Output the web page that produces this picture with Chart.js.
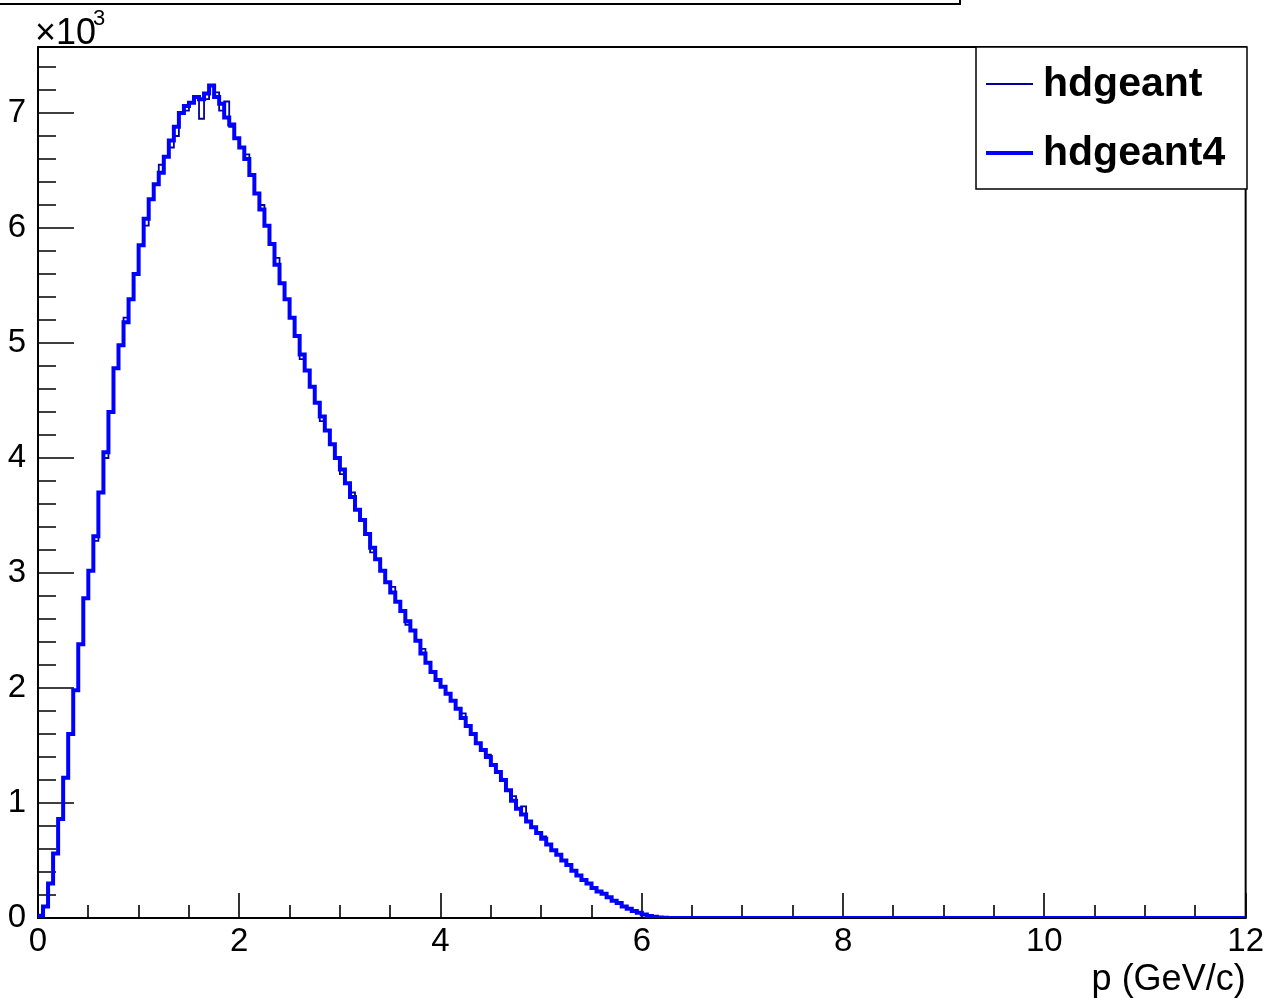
<!DOCTYPE html>
<html>
<head>
<meta charset="utf-8">
<title>p (GeV/c) - hdgeant vs hdgeant4</title>
<script src="https://cdn.jsdelivr.net/npm/chart.js@4.4.0/dist/chart.umd.min.js"></script>
<style>
  html, body { margin: 0; padding: 0; background: #ffffff; }
  #wrap { width: 1268px; height: 998px; }
</style>
</head>
<body>
<div id="wrap"><canvas id="chart" width="1268" height="998"></canvas></div>
<script>
// histogram binning (GeV/c), values in units of 10^3 entries
const binWidth = 0.05;
const xRange = [0, 12];
const yMax = 7.574;

const seriesNames = ['hdgeant', 'hdgeant4'];

const hdgeant4Values = [
  0.02, 0.10, 0.30, 0.56, 0.86, 1.22, 1.60, 1.98, 2.38, 2.78,
  3.02, 3.32, 3.70, 4.05, 4.40, 4.78, 4.98, 5.18, 5.38, 5.60,
  5.85, 6.08, 6.25, 6.38, 6.48, 6.62, 6.76, 6.88, 7.00, 7.06,
  7.09, 7.14, 7.12, 7.17, 7.24, 7.14, 7.08, 6.96, 6.90, 6.78,
  6.70, 6.60, 6.46, 6.30, 6.16, 6.02, 5.86, 5.68, 5.52, 5.38,
  5.22, 5.06, 4.90, 4.76, 4.62, 4.48, 4.36, 4.24, 4.12, 4.00,
  3.90, 3.78, 3.66, 3.55, 3.46, 3.34, 3.22, 3.12, 3.02, 2.92,
  2.83, 2.75, 2.67, 2.58, 2.50, 2.41, 2.30, 2.22, 2.14, 2.07,
  2.01, 1.95, 1.89, 1.82, 1.74, 1.67, 1.60, 1.52, 1.46, 1.40,
  1.33, 1.27, 1.20, 1.11, 1.02, 0.95, 0.90, 0.84, 0.79, 0.74,
  0.69, 0.64, 0.59, 0.55, 0.50, 0.46, 0.41, 0.37, 0.33, 0.30,
  0.26, 0.23, 0.21, 0.18, 0.15, 0.13, 0.10, 0.08, 0.06, 0.045,
  0.03, 0.018, 0.01, 0.005, 0.002, 0.001
];

const hdgeantValues = [
  0.02, 0.10, 0.30, 0.56, 0.86, 1.22, 1.60, 1.98, 2.38, 2.78,
  3.02, 3.28, 3.70, 4.00, 4.40, 4.78, 4.98, 5.22, 5.38, 5.60,
  5.85, 6.02, 6.25, 6.38, 6.55, 6.62, 6.70, 6.80, 7.00, 7.02,
  7.09, 7.14, 6.95, 7.12, 7.24, 7.18, 7.02, 7.10, 6.88, 6.78,
  6.70, 6.64, 6.46, 6.30, 6.20, 6.02, 5.86, 5.74, 5.52, 5.38,
  5.22, 5.06, 4.86, 4.76, 4.62, 4.48, 4.32, 4.24, 4.12, 4.00,
  3.86, 3.78, 3.70, 3.55, 3.46, 3.34, 3.18, 3.12, 3.02, 2.92,
  2.88, 2.75, 2.67, 2.55, 2.50, 2.41, 2.34, 2.22, 2.14, 2.07,
  2.01, 1.95, 1.89, 1.82, 1.78, 1.67, 1.60, 1.52, 1.46, 1.42,
  1.33, 1.27, 1.20, 1.11, 1.06, 0.95, 0.97, 0.84, 0.79, 0.74,
  0.71, 0.64, 0.59, 0.55, 0.50, 0.46, 0.41, 0.37, 0.33, 0.30,
  0.26, 0.23, 0.21, 0.18, 0.15, 0.13, 0.10, 0.08, 0.06, 0.045,
  0.03, 0.018, 0.01, 0.005, 0.002, 0.001
];

const xTickLabels = [0, 2, 4, 6, 8, 10, 12];
const yTickLabels = [0, 1, 2, 3, 4, 5, 6, 7];

const FONT = '"Liberation Sans", Arial, Helvetica, sans-serif';

// turn bin contents into a ROOT-like step outline
function toSteps(values) {
  const pts = [];
  values.forEach((v, i) => {
    pts.push({ x: i * binWidth, y: v });
    pts.push({ x: (i + 1) * binWidth, y: v });
  });
  pts.push({ x: values.length * binWidth, y: 0 });
  pts.push({ x: xRange[1], y: 0 });
  return pts;
}

// frame, inward ticks, legend and labels in ROOT style
const rootStyle = {
  id: 'rootStyle',
  beforeDatasetsDraw(chart) {
    const ctx = chart.ctx;
    const a = chart.chartArea;
    const xs = chart.scales.x;
    const ys = chart.scales.y;
    ctx.save();
    ctx.strokeStyle = '#000';
    ctx.lineWidth = 2;
    ctx.strokeRect(a.left, a.top, a.right - a.left, a.bottom - a.top);

    ctx.lineWidth = 1.6;
    ctx.beginPath();
    for (let v = xRange[0]; v <= xRange[1] + 1e-9; v += 0.5) {
      const px = Math.round(xs.getPixelForValue(v));
      const len = Math.abs(v % 2) < 1e-6 ? 25 : 13;
      ctx.moveTo(px, a.bottom);
      ctx.lineTo(px, a.bottom - len);
    }
    for (let v = 0; v <= yMax + 1e-9; v += 0.2) {
      const py = Math.round(ys.getPixelForValue(v));
      const len = Math.abs(v - Math.round(v)) < 1e-6 ? 36 : 18;
      ctx.moveTo(a.left, py);
      ctx.lineTo(a.left + len, py);
    }
    ctx.stroke();
    ctx.restore();
  },
  afterDraw(chart) {
    const ctx = chart.ctx;
    const a = chart.chartArea;
    ctx.save();

    // title box edge, cut off at the top of the canvas
    ctx.strokeStyle = '#000';
    ctx.lineWidth = 2;
    ctx.beginPath();
    ctx.moveTo(0, 4);
    ctx.lineTo(960, 4);
    ctx.lineTo(960, 0);
    ctx.stroke();

    // axis multiplier
    ctx.fillStyle = '#000';
    ctx.textAlign = 'left';
    ctx.textBaseline = 'alphabetic';
    ctx.font = '36px ' + FONT;
    ctx.fillText('\u00d710', 35, 44);
    ctx.font = '22px ' + FONT;
    ctx.fillText('3', 93, 25);

    // x axis title
    ctx.font = '36px ' + FONT;
    ctx.textAlign = 'right';
    ctx.fillText('p (GeV/c)', a.right, 990);

    // legend
    const lx = 976, ly = 47, lw = 271, lh = 142;
    ctx.fillStyle = '#fff';
    ctx.fillRect(lx, ly, lw, lh);
    ctx.lineWidth = 1.5;
    ctx.strokeStyle = '#000';
    ctx.strokeRect(lx, ly, lw, lh);

    chart.data.datasets.slice().sort((p, q) => p.legendRow - q.legendRow).forEach((ds, k) => {
      const y = ly + 37 + k * 69;
      ctx.strokeStyle = ds.borderColor;
      ctx.lineWidth = ds.borderWidth;
      ctx.beginPath();
      ctx.moveTo(986, y);
      ctx.lineTo(1033, y);
      ctx.stroke();
      ctx.fillStyle = '#000';
      ctx.font = 'bold 41px ' + FONT;
      ctx.textAlign = 'left';
      ctx.textBaseline = 'middle';
      ctx.fillText(ds.label, 1043, y + 1);
    });
    ctx.restore();
  }
};

const chart = new Chart(document.getElementById('chart'), {
  type: 'line',
  data: {
    datasets: [
      {
        label: seriesNames[1],
        data: toSteps(hdgeant4Values),
        borderColor: '#0000ff',
        borderWidth: 4,
        pointRadius: 0,
        tension: 0,
        fill: false,
        order: 0,
        legendRow: 1
      },
      {
        label: seriesNames[0],
        data: toSteps(hdgeantValues),
        borderColor: '#000099',
        borderWidth: 1.8,
        pointRadius: 0,
        tension: 0,
        fill: false,
        order: 1,
        legendRow: 0
      }
    ]
  },
  options: {
    responsive: false,
    animation: false,
    layout: { padding: { top: 47, right: 21, left: 0, bottom: 0 } },
    plugins: {
      legend: { display: false },
      tooltip: { enabled: false },
      title: { display: false }
    },
    scales: {
      x: {
        type: 'linear',
        position: 'bottom',
        min: xRange[0],
        max: xRange[1],
        grid: { display: false, drawTicks: false },
        border: { display: false },
        afterBuildTicks: (s) => { s.ticks = xTickLabels.map(v => ({ value: v })); },
        afterFit: (s) => { s.height = 80; },
        ticks: {
          autoSkip: false,
          maxRotation: 0,
          padding: 4,
          color: '#000',
          font: { family: FONT, size: 33 }
        }
      },
      y: {
        type: 'linear',
        min: 0,
        max: yMax,
        grid: { display: false, drawTicks: false },
        border: { display: false },
        afterBuildTicks: (s) => { s.ticks = yTickLabels.map(v => ({ value: v })); },
        afterFit: (s) => { s.width = 38; },
        ticks: {
          autoSkip: false,
          padding: 12,
          color: '#000',
          font: { family: FONT, size: 33 }
        }
      }
    }
  },
  plugins: [rootStyle]
});
</script>
</body>
</html>
